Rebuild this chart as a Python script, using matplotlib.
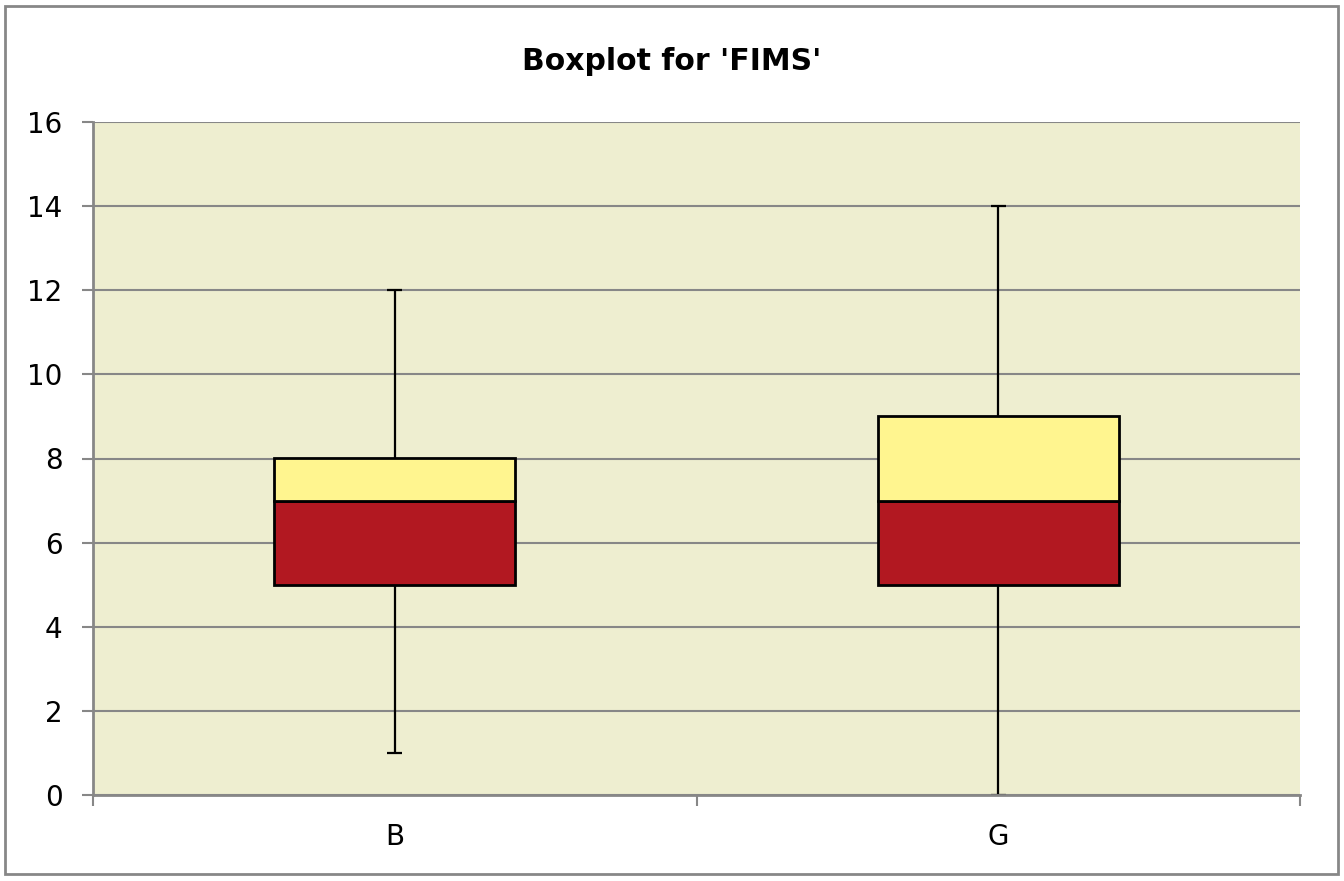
import matplotlib
matplotlib.use("Agg")
import matplotlib.pyplot as plt
from matplotlib.patches import Rectangle

# dados do boxplot
grupos = ["B", "G"]
minimos = [1, 0]
q1 = [5, 5]
medianas = [7, 7]
q3 = [8, 9]
maximos = [12, 14]

plt.rcParams['font.family'] = ['DejaVu Sans']

fig = plt.figure(figsize=(13.44, 8.81), dpi=100)
ax = fig.add_axes([93/1344, 1 - 795/881, (1300 - 93)/1344, (795 - 122)/881])

cinza = '#878787'
ax.set_facecolor('#EEEED0')

pos = [0.5, 1.5]
largura = 0.4
cap = 0.0125

for i in range(len(grupos)):
    x = pos[i]
    # whiskers
    ax.vlines(x, q3[i], maximos[i], color='black', lw=1.6, zorder=2)
    ax.vlines(x, minimos[i], q1[i], color='black', lw=1.6, zorder=2)
    ax.hlines([minimos[i], maximos[i]], x - cap, x + cap, color='black', lw=1.6, zorder=2)
    # caixa inferior (Q1 - mediana) e superior (mediana - Q3)
    ax.bar(x, medianas[i] - q1[i], largura, bottom=q1[i], color='#B21821',
           edgecolor='black', linewidth=2, zorder=3)
    ax.bar(x, q3[i] - medianas[i], largura, bottom=medianas[i], color='#FFF58F',
           edgecolor='black', linewidth=2, zorder=3)

ax.set_xlim(0, 2)
ax.set_ylim(0, 16)
ax.set_yticks(range(0, 17, 2))
ax.yaxis.grid(True, color=cinza, lw=1.5, zorder=1)
ax.set_axisbelow(True)

ax.set_xticks([0, 1, 2])
ax.set_xticklabels([])
ax.set_xticks(pos, minor=True)
ax.set_xticklabels(grupos, minor=True)
ax.tick_params(axis='x', which='major', length=8, width=1.5, color=cinza, direction='out')
ax.tick_params(axis='x', which='minor', length=0, pad=20, labelsize=20)
ax.tick_params(axis='y', length=8, width=1.5, color=cinza, labelsize=20, pad=14)

for lado in ['top', 'right']:
    ax.spines[lado].set_visible(False)
for lado in ['left', 'bottom']:
    ax.spines[lado].set_color(cinza)
    ax.spines[lado].set_linewidth(2)
    ax.spines[lado].set_zorder(5)

fig.text(0.5, 1 - 61/881, "Boxplot for 'FIMS'", ha='center', va='center',
         fontsize=21.5, fontweight='bold')

fig.patches.append(Rectangle((5/1344, 1 - 874/881), 1333/1344, 868/881,
                             transform=fig.transFigure, fill=False,
                             edgecolor=cinza, linewidth=2))

fig.savefig("out.png", dpi=100)
